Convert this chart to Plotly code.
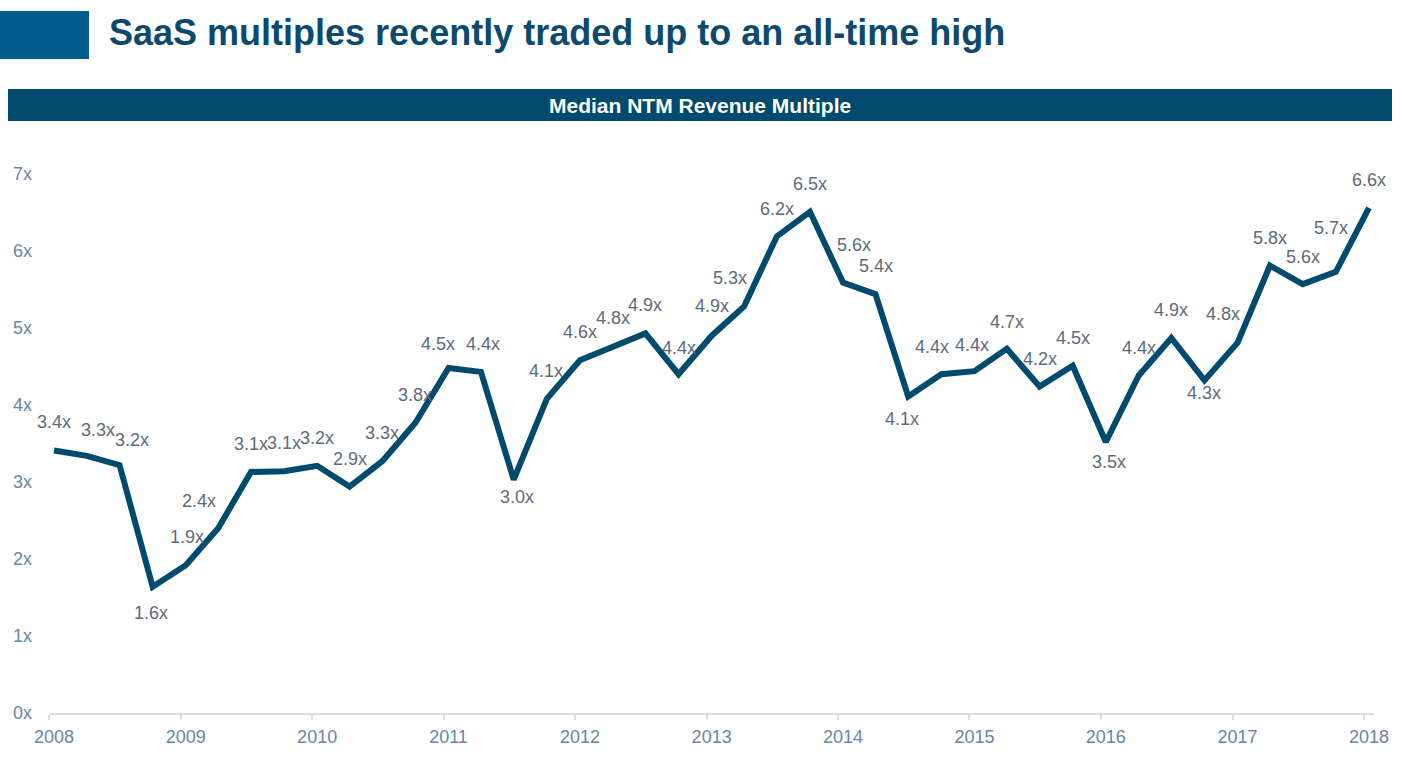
import plotly.graph_objects as go

# ---- data ----
quarters = [
    "2008-01-15", "2008-04-15", "2008-07-15", "2008-10-15",
    "2009-01-15", "2009-04-15", "2009-07-15", "2009-10-15",
    "2010-01-15", "2010-04-15", "2010-07-15", "2010-10-15",
    "2011-01-15", "2011-04-15", "2011-07-15", "2011-10-15",
    "2012-01-15", "2012-04-15", "2012-07-15", "2012-10-15",
    "2013-01-15", "2013-04-15", "2013-07-15", "2013-10-15",
    "2014-01-15", "2014-04-15", "2014-07-15", "2014-10-15",
    "2015-01-15", "2015-04-15", "2015-07-15", "2015-10-15",
    "2016-01-15", "2016-04-15", "2016-07-15", "2016-10-15",
    "2017-01-15", "2017-04-15", "2017-07-15", "2017-10-15",
    "2018-01-15",
]
multiples = [
    3.41, 3.34, 3.22, 1.64, 1.92, 2.40, 3.13, 3.14, 3.21, 2.94, 3.27,
    3.77, 4.48, 4.43, 3.03, 4.08, 4.58, 4.76, 4.93, 4.40, 4.90, 5.28,
    6.19, 6.51, 5.59, 5.44, 4.11, 4.40, 4.44, 4.73, 4.24, 4.51, 3.52,
    4.38, 4.87, 4.32, 4.81, 5.81, 5.57, 5.73, 6.56,
]
y_ticks = [0, 1, 2, 3, 4, 5, 6, 7]
y_tick_labels = ["0x", "1x", "2x", "3x", "4x", "5x", "6x", "7x"]
x_tick_years = ["2008", "2009", "2010", "2011", "2012", "2013",
                "2014", "2015", "2016", "2017", "2018"]

title_text = "SaaS multiples recently traded up to an all-time high"
banner_text = "Median NTM Revenue Multiple"

# ---- style: label offsets (px) per point (dx right, dy down) ----
label_offsets = [
    (0, -28), (11, -26), (12, -25), (-2, 26), (1, -28), (-19, -27),
    (0, -28), (0, -28), (0, -28), (0, -28), (0, -28), (0, -28),
    (-11, -24), (2, -28), (3, 17), (-1, -28), (0, -28), (0, -28),
    (0, -28), (0, -26), (0, -30), (-14, -28), (0, -27), (0, -28),
    (11, -38), (1, -28), (-6, 22), (-9, -27), (-2, -26), (0, -27),
    (0, -28), (0, -28), (3, 20), (0, -28), (0, -28), (0, 13),
    (-15, -29), (0, -28), (0, -27), (-5, -44), (0, -28),
]

W, H = 1404, 762
ML, MR, MT, MB = 49, 30, 174, 49
PW, PH = W - ML - MR, H - MT - MB
FONT = "Liberation Sans, Arial, sans-serif"
LINE_COLOR = "#004a6d"
LABEL_COLOR = "#5d6a7c"
TICK_COLOR = "#6a85a5"


def px_x(px):
    return (px - ML) / PW


def px_y(py):
    return (H - MB - py) / PH


fig = go.Figure()
fig.add_trace(go.Scatter(
    x=quarters, y=multiples, mode="lines",
    line=dict(color=LINE_COLOR, width=6),
    hoverinfo="skip", showlegend=False,
))

annotations = []
for q, v, (dx, dy) in zip(quarters, multiples, label_offsets):
    annotations.append(dict(
        x=q, y=v, xref="x", yref="y", text=f"{v:.1f}x", showarrow=False,
        xanchor="center", yanchor="middle", xshift=dx, yshift=-dy,
        font=dict(family=FONT, size=18, color=LABEL_COLOR),
    ))

# title
annotations.append(dict(
    x=px_x(107), y=px_y(32), xref="paper", yref="paper", text=f"<b>{title_text}</b>",
    showarrow=False, xanchor="left", yanchor="middle",
    font=dict(family=FONT, size=36, color="#0b4a6e"),
))
# banner text
annotations.append(dict(
    x=px_x(700), y=px_y(105), xref="paper", yref="paper", text=f"<b>{banner_text}</b>",
    showarrow=False, xanchor="center", yanchor="middle",
    font=dict(family=FONT, size=21, color="#ffffff"),
))

shapes = [
    dict(type="rect", xref="paper", yref="paper", x0=px_x(0), x1=px_x(89),
         y0=px_y(59), y1=px_y(11), fillcolor="#005b8c", line=dict(width=0), layer="above"),
    dict(type="rect", xref="paper", yref="paper", x0=px_x(8), x1=px_x(1392),
         y0=px_y(121), y1=px_y(89), fillcolor="#004a6d", line=dict(width=0), layer="above"),
]

fig.update_layout(
    width=W, height=H,
    margin=dict(l=ML, r=MR, t=MT, b=MB, pad=0),
    paper_bgcolor="white", plot_bgcolor="white",
    annotations=annotations, shapes=shapes,
    xaxis=dict(
        type="date", range=["2008-01-01", "2018-01-29"],
        tickvals=[f"{y}-01-01" for y in x_tick_years], ticktext=x_tick_years,
        showgrid=False, zeroline=False, showline=True, linecolor="#d9dee6", linewidth=2,
        ticks="outside", ticklen=5, tickcolor="#d9dee6", tickwidth=2,
        tickfont=dict(family=FONT, size=18, color=TICK_COLOR),
        ticklabelstandoff=1, ticklabelshift=5, fixedrange=True,
    ),
    yaxis=dict(
        range=[0, 7], tickvals=y_ticks, ticktext=y_tick_labels,
        showgrid=False, zeroline=False, showline=False,
        ticks="", tickfont=dict(family=FONT, size=18, color=TICK_COLOR),
        ticklabelstandoff=16, fixedrange=True,
    ),
)

fig.write_html(
    "out.html",
    config={"displayModeBar": False},
    post_script="document.body.style.margin='0';document.body.style.overflow='hidden';",
)
